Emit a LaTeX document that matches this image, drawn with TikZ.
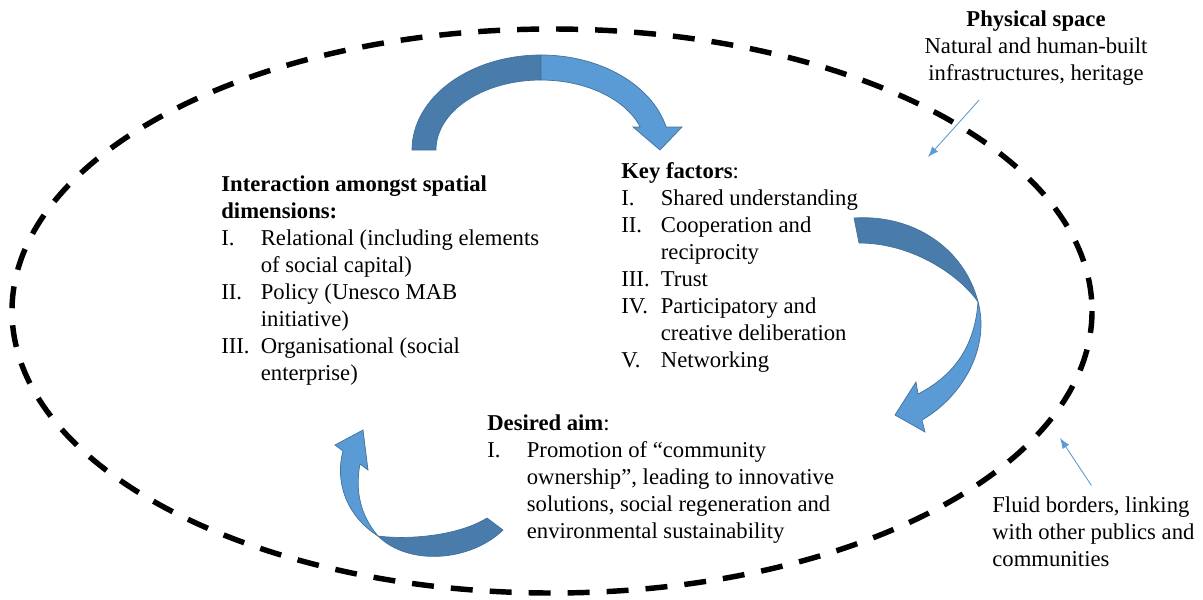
\documentclass[tikz,border=0pt]{standalone}
\usepackage{fontspec}
\setmainfont{Liberation Serif}
\usetikzlibrary{arrows.meta}

\definecolor{ribbonlight}{HTML}{5B9BD5}
\definecolor{ribbondark}{HTML}{497CAA}
\definecolor{ribbonedge}{HTML}{41719C}

\tikzset{
  block/.style={anchor=base west, inner sep=0pt, font=\fontsize{12.9}{15.37}\selectfont},
  sidenote/.style={block, anchor=base},
  border/.style={line width=3.1pt, dash pattern=on 12.5pt off 9.7pt},
  ribbonback/.style={fill=ribbondark, draw=ribbonedge, line width=0.4pt},
  ribbonfront/.style={fill=ribbonlight, draw=ribbonedge, line width=0.4pt},
  pointer/.style={draw=ribbonlight, line width=0.5pt, -{Latex[length=6pt,width=4.5pt]}}
}

\begin{document}
\begin{tikzpicture}[x=0.02cm, y=-0.02cm]
  \useasboundingbox (0,0) rectangle (1203,599);

  % the place itself
  \draw[border] (552,311) ellipse [x radius=540, y radius=282];

  % cycle ribbons
  \path[ribbonback] (412,150) arc[start angle=180, end angle=270, x radius=129, y radius=95]
    -- (541,80) arc[start angle=270, end angle=180, x radius=105, y radius=70] -- cycle;
  \path[ribbonfront] (541,55) arc[start angle=270, end angle=346, x radius=129, y radius=95]
    -- (682,127) -- (660,150) -- (633,127) -- (640.2,127)
    arc[start angle=340.8, end angle=270, x radius=105, y radius=70] -- cycle;

  \path[ribbonback] (854,218) .. controls (915,214) and (965,250) .. (978,302)
    .. controls (962,278) and (915,243) .. (859,243) -- cycle;
  \path[ribbonfront] (978,302) .. controls (990,345) and (965,395) .. (922,420)
    -- (925,432) -- (895,415) -- (916,382) -- (918,394)
    .. controls (955,375) and (975,345) .. (978,302) -- cycle;

  \path[ribbonback] (503,530) .. controls (470,562) and (408,566) .. (378,536)
    .. controls (408,540) and (458,536) .. (487,518) -- cycle;
  \path[ribbonfront] (378,536) .. controls (345,515) and (335,480) .. (343,451)
    -- (335,445) -- (363,430) -- (368,470) -- (360,464)
    .. controls (355,490) and (360,515) .. (378,536) -- cycle;

  % text blocks
  \node[block] (dims) at (221,191.5) {\begin{tabular}[t]{@{}p{22.5pt}@{}l@{}}
    \multicolumn{2}{@{}l@{}}{\textbf{Interaction amongst spatial}}\\
    \multicolumn{2}{@{}l@{}}{\textbf{dimensions:}}\\
    I.   & Relational (including elements\\
         & of social capital)\\
    II.  & Policy (Unesco MAB\\
         & initiative)\\
    III. & Organisational (social\\
         & enterprise)
  \end{tabular}};

  \node[block] (keys) at (621,178) {\begin{tabular}[t]{@{}p{22.5pt}@{}l@{}}
    \multicolumn{2}{@{}l@{}}{\textbf{Key factors}:}\\
    I.   & Shared understanding\\
    II.  & Cooperation and\\
         & reciprocity\\
    III. & Trust\\
    IV.  & Participatory and\\
         & creative deliberation\\
    V.   & Networking
  \end{tabular}};

  \node[block] (aim) at (487,430) {\begin{tabular}[t]{@{}p{22.5pt}@{}l@{}}
    \multicolumn{2}{@{}l@{}}{\textbf{Desired aim}:}\\
    I. & Promotion of “community\\
       & ownership”, leading to innovative\\
       & solutions, social regeneration and\\
       & environmental sustainability
  \end{tabular}};

  \node[sidenote] (phys) at (1036,26.7) {\begin{tabular}[t]{@{}c@{}}
    \textbf{Physical space}\\
    Natural and human-built\\
    infrastructures, heritage
  \end{tabular}};

  \node[block] (fluid) at (992,512.7) {\begin{tabular}[t]{@{}l@{}}
    Fluid borders, linking\\
    with other publics and\\
    communities
  \end{tabular}};

  % pointers onto the border
  \coordinate (physpt) at (928,157);
  \coordinate (fluidpt) at (1060,438);
  \draw[pointer] ([shift={(-57,11)}]phys.south) -- (physpt);
  \draw[pointer] ([shift={(-2,-8)}]fluid.north) -- (fluidpt);
\end{tikzpicture}
\end{document}
